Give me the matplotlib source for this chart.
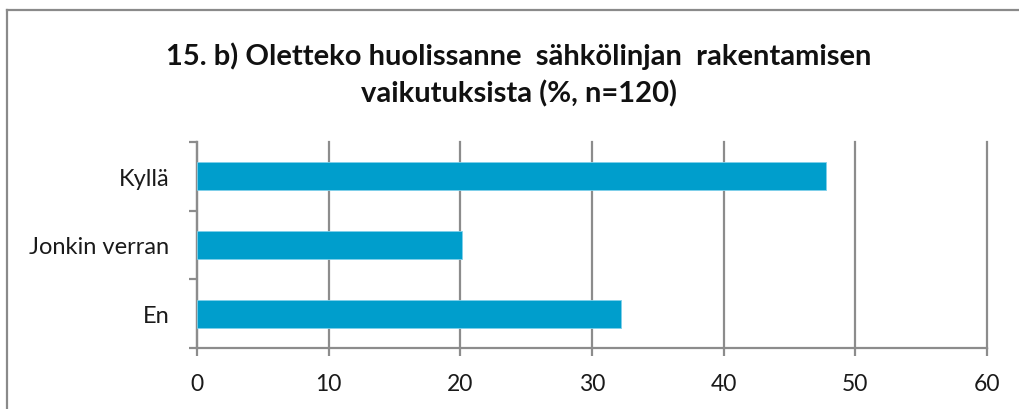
import matplotlib.pyplot as plt
from matplotlib.lines import Line2D

# data
categories = ['En', 'Jonkin verran', 'Kyllä']
values = [32.2, 20.1, 47.8]
x_ticks = [0, 10, 20, 30, 40, 50, 60]

title = '15. b) Oletteko huolissanne  sähkölinjan  rakentamisen\nvaikutuksista (%, n=120)'

W, H = 1019, 410
fig = plt.figure(figsize=(W / 100, H / 100), dpi=100)
fig.patch.set_facecolor('white')

# axes placed to match the pixel layout of the reference
left, right, top, bottom = 197, 987, 143, 349
ax = fig.add_axes([left / W, 1 - bottom / H, (right - left) / W, (bottom - top) / H])

bar_color = '#009ECC'
ax.barh(range(len(categories)), values, height=0.41, color=bar_color,
        edgecolor='#7FD0EA', linewidth=0.6, zorder=3)

ax.set_xlim(0, 60)
ax.set_ylim(-0.5, len(categories) - 0.5)
ax.set_xticks(x_ticks)
ax.set_yticks(range(len(categories)))
ax.set_yticklabels(categories)
ax.set_yticks([-0.5, 0.5, 1.5, 2.5], minor=True)

grid_color = '#8C8C8C'
ax.grid(axis='x', color=grid_color, linewidth=1.6, zorder=1)
for gl in ax.get_xgridlines():
    gl.set_clip_on(False)
for side in ['top', 'right']:
    ax.spines[side].set_visible(False)
for side in ['left', 'bottom']:
    ax.spines[side].set_color(grid_color)
    ax.spines[side].set_linewidth(1.6)

font = ['Lato', 'DejaVu Sans']
ax.tick_params(axis='x', length=6, width=1.6, color=grid_color, pad=12,
               labelsize=16.5, labelcolor='#1a1a1a')
ax.tick_params(axis='y', which='major', length=0, pad=20,
               labelsize=17, labelcolor='#1a1a1a')
ax.tick_params(axis='y', which='minor', length=6, width=1.6, color=grid_color)
for lab in ax.get_xticklabels() + ax.get_yticklabels():
    lab.set_fontfamily(font)

fig.text(519 / W, 1 - 75 / H, title, ha='center', va='center',
         fontsize=21, fontweight='bold', linespacing=1.45,
         family=font, color='#111111')

# chart area border (top and left edges visible)
fig.add_artist(Line2D([7 / W, 1], [1 - 11 / H, 1 - 11 / H], color='#8A8A8A', linewidth=1.6))
fig.add_artist(Line2D([7 / W, 7 / W], [0, 1 - 11 / H], color='#8A8A8A', linewidth=1.6))

fig.savefig('out.png', dpi=100)
